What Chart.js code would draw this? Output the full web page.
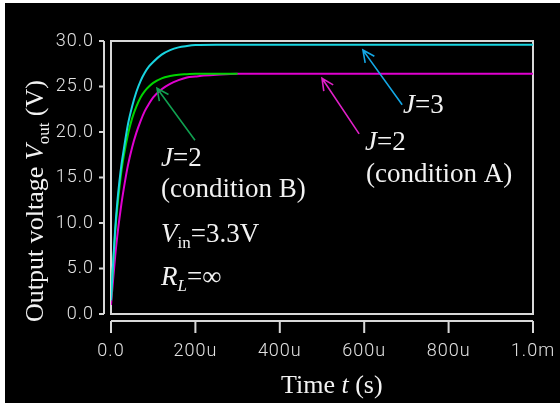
<!DOCTYPE html>
<html>
<head>
<meta charset="utf-8">
<script src="https://cdn.jsdelivr.net/npm/chart.js@4.4.1/dist/chart.umd.min.js"></script>
<style>
  html, body { margin: 0; padding: 0; background: #fff; overflow: hidden; }
</style>
</head>
<body>
<canvas id="c" width="560" height="403"></canvas>
<script>
// DATA (time in microseconds, voltage in V)
const timeJ3 = [0, 5, 10, 15, 20, 25, 30, 40, 50, 60, 70, 80, 90, 100, 120, 140, 160, 180, 200, 250, 300, 400, 500, 600, 700, 800, 900, 1000];
const voutJ3 = [1.5, 5.6, 9.4, 12.3, 14.6, 16.5, 18.0, 20.8, 22.8, 24.4, 25.6, 26.5, 27.2, 27.7, 28.5, 29.0, 29.3, 29.45, 29.55, 29.6, 29.6, 29.6, 29.6, 29.6, 29.6, 29.6, 29.6, 29.6];

const timeJ2B = [0, 5, 10, 15, 20, 25, 30, 40, 50, 60, 70, 80, 90, 100, 120, 140, 160, 180, 200, 250, 300];
const voutJ2B = [1.5, 5.5, 9.0, 11.7, 13.9, 15.8, 17.3, 19.7, 21.5, 22.8, 23.8, 24.5, 25.0, 25.4, 25.9, 26.15, 26.3, 26.35, 26.4, 26.4, 26.4];

const timeJ2A = [0, 5, 10, 15, 20, 25, 30, 40, 50, 60, 70, 80, 90, 100, 120, 140, 160, 180, 200, 220, 250, 300, 400, 500, 600, 700, 800, 900, 1000];
const voutJ2A = [1.0, 3.8, 6.4, 8.6, 10.5, 12.2, 13.7, 16.3, 18.3, 19.9, 21.2, 22.3, 23.1, 23.8, 24.7, 25.3, 25.7, 26.0, 26.1, 26.2, 26.3, 26.4, 26.4, 26.4, 26.4, 26.4, 26.4, 26.4, 26.4];

const xTickValues = [0, 200, 400, 600, 800, 1000];
const xTickLabels = ['0.0', '200u', '400u', '600u', '800u', '1.0m'];
const yTickValues = [0, 5, 10, 15, 20, 25, 30];
const yTickLabels = ['0.0', '5.0', '10.0', '15.0', '20.0', '25.0', '30.0'];

// STYLE
const SERIF = '"Liberation Serif", "Times New Roman", serif';
const TICK_FONT = '300 18px Roboto, "DejaVu Sans", sans-serif';
const TEXT_COLOR = '#f2f2f2';
const TICK_COLOR = '#e2e2e2';
const AXIS_COLOR = '#d8d8d8';

function toPoints(xs, ys) {
  return xs.map((x, i) => ({ x: x, y: ys[i] }));
}

// draws a run of text pieces (italic / subscript) starting at x,y
function drawRich(ctx, x, y, parts, size) {
  let cx = x;
  parts.forEach(p => {
    const s = p.sub ? Math.round(size * 0.64) : size;
    ctx.font = (p.italic ? 'italic ' : '') + s + 'px ' + SERIF;
    ctx.fillText(p.t, cx, y + (p.sub ? size * 0.22 : 0));
    cx += ctx.measureText(p.t).width;
  });
  return cx - x;
}

function arrow(ctx, x0, y0, x1, y1, color) {
  const ang = Math.atan2(y1 - y0, x1 - x0);
  const head = 13;
  ctx.strokeStyle = color;
  ctx.lineWidth = 1.6;
  ctx.beginPath();
  ctx.moveTo(x0, y0);
  ctx.lineTo(x1, y1);
  ctx.moveTo(x1 - head * Math.cos(ang - 0.45), y1 - head * Math.sin(ang - 0.45));
  ctx.lineTo(x1, y1);
  ctx.lineTo(x1 - head * Math.cos(ang + 0.45), y1 - head * Math.sin(ang + 0.45));
  ctx.stroke();
}

const framePlugin = {
  id: 'frame',
  beforeDraw(chart) {
    const { ctx, width, height } = chart;
    ctx.save();
    ctx.fillStyle = '#fff';
    ctx.fillRect(0, 0, width, height);
    ctx.fillStyle = '#000';
    ctx.fillRect(5, 3, width - 5, height - 3);
    ctx.restore();
  },
  beforeDatasetsDraw(chart) {
    const { ctx, chartArea: a, scales: { x, y } } = chart;
    ctx.save();
    ctx.strokeStyle = AXIS_COLOR;
    ctx.lineWidth = 2;
    ctx.strokeRect(a.left, a.top, a.right - a.left, a.bottom - a.top);

    // detached y axis
    const yx = a.left - 7;
    ctx.beginPath();
    ctx.moveTo(yx, a.top);
    ctx.lineTo(yx, a.bottom);
    yTickValues.forEach(v => {
      const py = y.getPixelForValue(v);
      ctx.moveTo(yx - 5, py);
      ctx.lineTo(yx, py);
    });
    // detached x axis
    const xy = a.bottom + 7;
    ctx.moveTo(a.left, xy);
    ctx.lineTo(a.right, xy);
    xTickValues.forEach(v => {
      const px = x.getPixelForValue(v);
      ctx.moveTo(px, xy);
      ctx.lineTo(px, xy + 12);
    });
    ctx.stroke();

    // tick labels
    ctx.fillStyle = TICK_COLOR;
    ctx.font = TICK_FONT;
    ctx.letterSpacing = '1px';
    ctx.textBaseline = 'middle';
    ctx.textAlign = 'right';
    yTickValues.forEach((v, i) => {
      ctx.fillText(yTickLabels[i], a.left - 17, y.getPixelForValue(v));
    });
    ctx.textAlign = 'center';
    xTickValues.forEach((v, i) => {
      ctx.fillText(xTickLabels[i], x.getPixelForValue(v), a.bottom + 37);
    });
    ctx.restore();
  },
  afterDraw(chart) {
    const { ctx, chartArea: a, scales: { x, y } } = chart;
    ctx.save();
    ctx.fillStyle = TEXT_COLOR;
    ctx.textBaseline = 'alphabetic';
    ctx.textAlign = 'left';

    // axis titles
    drawRich(ctx, 281, a.bottom + 79, [{ t: 'Time ' }, { t: 't', italic: true }, { t: ' (s)' }], 26);

    ctx.save();
    ctx.translate(43, 322);
    ctx.rotate(-Math.PI / 2);
    drawRich(ctx, 0, 0, [{ t: 'Output voltage ' }, { t: 'V', italic: true }, { t: 'out', sub: true }, { t: ' (V)' }], 26);
    ctx.restore();

    // arrows (anchored in data space)
    arrow(ctx, x.getPixelForValue(690), y.getPixelForValue(23.0), x.getPixelForValue(597), y.getPixelForValue(29.0), '#14a8e6');
    arrow(ctx, x.getPixelForValue(588), y.getPixelForValue(19.8), x.getPixelForValue(500), y.getPixelForValue(25.9), '#e020c8');
    arrow(ctx, x.getPixelForValue(199), y.getPixelForValue(19.1), x.getPixelForValue(109), y.getPixelForValue(24.8), '#10a050');

    // annotations
    ctx.fillStyle = TEXT_COLOR;
    drawRich(ctx, 403, 113, [{ t: 'J', italic: true }, { t: '=3' }], 27);
    drawRich(ctx, 365, 150, [{ t: 'J', italic: true }, { t: '=2' }], 27);
    drawRich(ctx, 366, 182, [{ t: '(condition A)' }], 27);
    drawRich(ctx, 161, 166, [{ t: 'J', italic: true }, { t: '=2' }], 27);
    drawRich(ctx, 161, 197, [{ t: '(condition B)' }], 27);
    drawRich(ctx, 161, 242, [{ t: 'V', italic: true }, { t: 'in', sub: true }, { t: '=3.3V' }], 27);
    drawRich(ctx, 161, 285, [{ t: 'R', italic: true }, { t: 'L', italic: true, sub: true }, { t: '=\u221E' }], 27);
    ctx.restore();
  }
};

const chart = new Chart(document.getElementById('c').getContext('2d'), {
  type: 'line',
  data: {
    datasets: [
      { label: 'J=3', data: toPoints(timeJ3, voutJ3), borderColor: '#18d4e0' },
      { label: 'J=2 (condition B)', data: toPoints(timeJ2B, voutJ2B), borderColor: '#00d400' },
      { label: 'J=2 (condition A)', data: toPoints(timeJ2A, voutJ2A), borderColor: '#e000d0' }
    ]
  },
  plugins: [framePlugin],
  options: {
    responsive: false,
    animation: false,
    devicePixelRatio: 1,
    layout: { padding: { left: 111, right: 27, top: 41, bottom: 89 } },
    elements: {
      point: { radius: 0 },
      line: { borderWidth: 2, cubicInterpolationMode: 'monotone', fill: false }
    },
    scales: {
      x: { type: 'linear', display: false, min: 0, max: 1000 },
      y: { type: 'linear', display: false, min: 0, max: 30 }
    },
    plugins: {
      legend: { display: false },
      tooltip: { enabled: false }
    }
  }
});
</script>
</body>
</html>
